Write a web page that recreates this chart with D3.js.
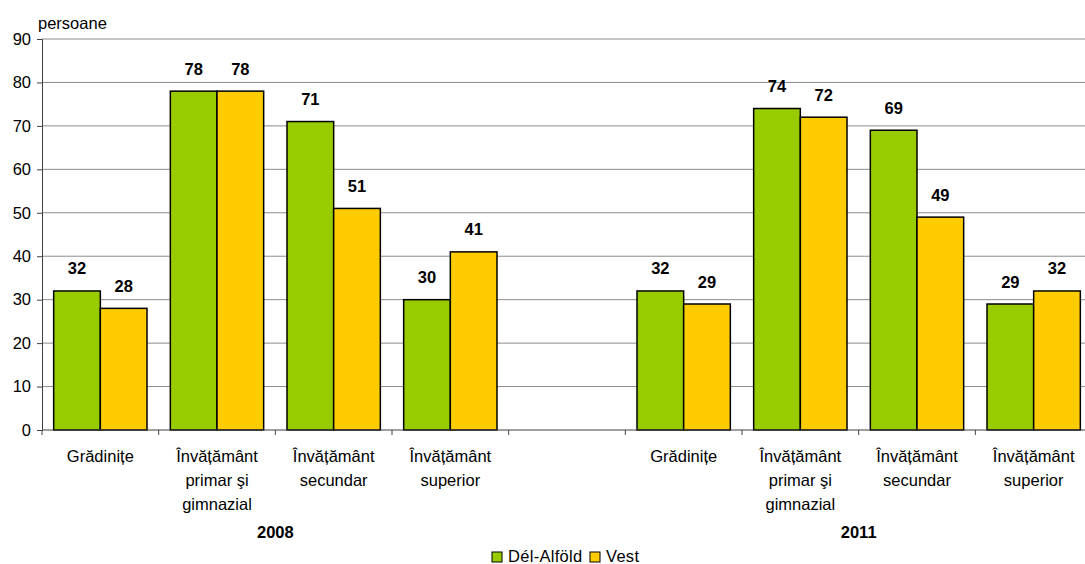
<!DOCTYPE html>
<html>
<head>
<meta charset="utf-8">
<script src="https://cdn.jsdelivr.net/npm/d3@7"></script>
<style>
  body { margin: 0; background: #fff; }
  svg text { font-family: "Liberation Sans", Arial, sans-serif; fill: #000; }
</style>
</head>
<body>
<script>
'use strict';

// data
const years = ["2008", "2011"];
const categories = ["Grădinițe", "Învățământ|primar şi|gimnazial", "Învățământ|secundar", "Învățământ|superior"];
const series = ["Dél-Alföld", "Vest"];
const colors = ["#99CC00", "#FFCC00"];
const delAlfold = [32, 78, 71, 30, 32, 74, 69, 29];
const vest = [28, 78, 51, 41, 29, 72, 49, 32];
const yTicks = [0, 10, 20, 30, 40, 50, 60, 70, 80, 90];

(function () {
  const width = 1085, height = 564;
  const left = 42, right = 1092, top = 39, bottom = 430;
  const fs = '16.5px';

  const svg = d3.select('body').append('svg')
    .attr('width', width)
    .attr('height', height);

  // 9 slots: 4 categories, one empty gap, 4 categories
  let slots = [];
  years.forEach((yr, yi) => {
    categories.forEach((c, ci) => slots.push({ key: yr + "-" + ci, label: c, year: yr }));
    if (yi == 0) slots.push({ key: "gap", label: "", year: "" });
  });

  let x = d3.scaleBand()
    .domain(slots.map(d => d.key))
    .range([left, right]);

  let y = d3.scaleLinear()
    .domain([0, 90])
    .range([bottom, top]);

  // gridlines
  svg.append('g')
    .selectAll('line')
    .data(yTicks.filter(t => t > 0))
    .enter()
    .append('line')
    .attr('x1', left)
    .attr('x2', right)
    .attr('y1', d => y(d))
    .attr('y2', d => y(d))
    .attr('stroke', '#8c8c8c')
    .attr('stroke-width', 1);

  // y axis
  let yAxis = d3.axisLeft(y).tickValues(yTicks).tickSize(5).tickPadding(6);
  let gy = svg.append('g')
    .attr('transform', 'translate(' + left + ',0)')
    .call(yAxis);
  gy.select('.domain').attr('stroke', '#404040');
  gy.selectAll('.tick line').attr('stroke', '#404040');
  gy.selectAll('text').style('font-size', fs).style('font-family', '"Liberation Sans", Arial, sans-serif');

  svg.append('text')
    .attr('x', 38)
    .attr('y', 29)
    .style('font-size', fs)
    .text('persoane');

  // bars
  let rows = [];
  let dataSlots = slots.filter(d => d.key != "gap");
  dataSlots.forEach((s, i) => {
    rows.push({ slot: s.key, s: 0, v: delAlfold[i] });
    rows.push({ slot: s.key, s: 1, v: vest[i] });
  });

  let inner = d3.scaleBand()
    .domain([0, 1])
    .range([0, x.bandwidth()])
    .paddingInner(0)
    .paddingOuter(0.25);

  svg.append('g')
    .selectAll('rect')
    .data(rows)
    .enter()
    .append('rect')
    .attr('x', d => x(d.slot) + inner(d.s))
    .attr('y', d => y(d.v))
    .attr('width', inner.bandwidth())
    .attr('height', d => y(0) - y(d.v))
    .attr('fill', d => colors[d.s])
    .attr('stroke', '#000')
    .attr('stroke-width', 1.5);

  // value labels
  svg.append('g')
    .selectAll('text')
    .data(rows)
    .enter()
    .append('text')
    .attr('x', d => x(d.slot) + inner(d.s) + inner.bandwidth() / 2)
    .attr('y', d => y(d.v) - 16.5)
    .attr('text-anchor', 'middle')
    .style('font-size', fs)
    .style('font-weight', 'bold')
    .text(d => d.v);

  // x axis
  svg.append('line')
    .attr('x1', left).attr('x2', right)
    .attr('y1', bottom).attr('y2', bottom)
    .attr('stroke', '#404040');

  let bounds = slots.map(s => x(s.key)).concat([right]);
  svg.append('g')
    .selectAll('line')
    .data(bounds)
    .enter()
    .append('line')
    .attr('x1', d => d).attr('x2', d => d)
    .attr('y1', bottom).attr('y2', bottom + 5)
    .attr('stroke', '#404040');

  // category labels
  let labels = svg.append('g')
    .selectAll('text')
    .data(dataSlots)
    .enter()
    .append('text')
    .attr('text-anchor', 'middle')
    .attr('transform', d => 'translate(' + (x(d.key) + x.bandwidth() / 2) + ',462)')
    .style('font-size', fs);

  labels.selectAll('tspan')
    .data(d => d.label.split('|'))
    .enter()
    .append('tspan')
    .attr('x', 0)
    .attr('y', (d, i) => i * 24)
    .text(d => d);

  // year labels
  years.forEach((yr) => {
    let first = x(yr + "-0");
    let last = x(yr + "-3") + x.bandwidth();
    svg.append('text')
      .attr('x', (first + last) / 2)
      .attr('y', 538)
      .attr('text-anchor', 'middle')
      .style('font-size', fs)
      .style('font-weight', 'bold')
      .text(yr);
  });

  // legend
  let legendX = [492, 590];
  series.forEach((name, i) => {
    svg.append('rect')
      .attr('x', legendX[i])
      .attr('y', 552)
      .attr('width', 10)
      .attr('height', 10)
      .attr('fill', colors[i])
      .attr('stroke', '#000')
      .attr('stroke-width', 1);
    svg.append('text')
      .attr('x', legendX[i] + 16)
      .attr('y', 562)
      .style('font-size', fs)
      .style('letter-spacing', '0.3px')
      .text(name);
  });
})();
</script>
</body>
</html>
